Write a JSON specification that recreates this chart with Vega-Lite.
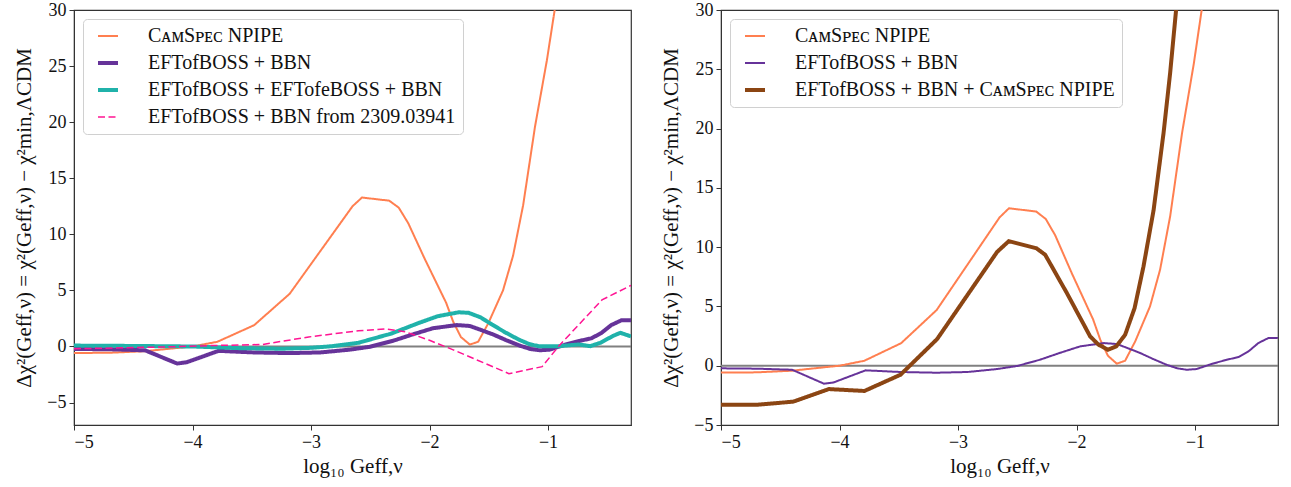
{
  "$schema": "https://vega.github.io/schema/vega-lite/v6.json",
  "background": "white",
  "padding": {"left": 13, "top": 0, "right": 8, "bottom": 5},
  "spacing": 27,
  "datasets": {
    "curves": [
      {"series": "CᴀᴍSᴘᴇᴄ NPIPE", "x": -5.0, "y": -0.58},
      {"series": "CᴀᴍSᴘᴇᴄ NPIPE", "x": -4.7, "y": -0.56},
      {"series": "CᴀᴍSᴘᴇᴄ NPIPE", "x": -4.4, "y": -0.42},
      {"series": "CᴀᴍSᴘᴇᴄ NPIPE", "x": -4.1, "y": -0.1},
      {"series": "CᴀᴍSᴘᴇᴄ NPIPE", "x": -4.0, "y": 0.0},
      {"series": "CᴀᴍSᴘᴇᴄ NPIPE", "x": -3.79, "y": 0.42},
      {"series": "CᴀᴍSᴘᴇᴄ NPIPE", "x": -3.48, "y": 1.9},
      {"series": "CᴀᴍSᴘᴇᴄ NPIPE", "x": -3.18, "y": 4.7},
      {"series": "CᴀᴍSᴘᴇᴄ NPIPE", "x": -2.65, "y": 12.5},
      {"series": "CᴀᴍSᴘᴇᴄ NPIPE", "x": -2.57, "y": 13.28},
      {"series": "CᴀᴍSᴘᴇᴄ NPIPE", "x": -2.34, "y": 13.0},
      {"series": "CᴀᴍSᴘᴇᴄ NPIPE", "x": -2.26, "y": 12.38},
      {"series": "CᴀᴍSᴘᴇᴄ NPIPE", "x": -2.18, "y": 11.0},
      {"series": "CᴀᴍSᴘᴇᴄ NPIPE", "x": -2.04, "y": 7.8},
      {"series": "CᴀᴍSᴘᴇᴄ NPIPE", "x": -1.86, "y": 3.9},
      {"series": "CᴀᴍSᴘᴇᴄ NPIPE", "x": -1.8, "y": 2.2},
      {"series": "CᴀᴍSᴘᴇᴄ NPIPE", "x": -1.735, "y": 0.84},
      {"series": "CᴀᴍSᴘᴇᴄ NPIPE", "x": -1.66, "y": 0.17},
      {"series": "CᴀᴍSᴘᴇᴄ NPIPE", "x": -1.59, "y": 0.42},
      {"series": "CᴀᴍSᴘᴇᴄ NPIPE", "x": -1.505, "y": 2.05},
      {"series": "CᴀᴍSᴘᴇᴄ NPIPE", "x": -1.38, "y": 5.0},
      {"series": "CᴀᴍSᴘᴇᴄ NPIPE", "x": -1.295, "y": 8.1},
      {"series": "CᴀᴍSᴘᴇᴄ NPIPE", "x": -1.21, "y": 12.6},
      {"series": "CᴀᴍSᴘᴇᴄ NPIPE", "x": -1.11, "y": 19.6},
      {"series": "CᴀᴍSᴘᴇᴄ NPIPE", "x": -1.01, "y": 25.5},
      {"series": "CᴀᴍSᴘᴇᴄ NPIPE", "x": -0.944, "y": 30.0},
      {"series": "CᴀᴍSᴘᴇᴄ NPIPE", "x": -0.88, "y": 35.0},

      {"series": "EFTofBOSS + BBN", "x": -5.0, "y": -0.22},
      {"series": "EFTofBOSS + BBN", "x": -4.7, "y": -0.25},
      {"series": "EFTofBOSS + BBN", "x": -4.4, "y": -0.34},
      {"series": "EFTofBOSS + BBN", "x": -4.13, "y": -1.52},
      {"series": "EFTofBOSS + BBN", "x": -4.05, "y": -1.41},
      {"series": "EFTofBOSS + BBN", "x": -3.78, "y": -0.39},
      {"series": "EFTofBOSS + BBN", "x": -3.485, "y": -0.53},
      {"series": "EFTofBOSS + BBN", "x": -3.18, "y": -0.59},
      {"series": "EFTofBOSS + BBN", "x": -2.92, "y": -0.53},
      {"series": "EFTofBOSS + BBN", "x": -2.67, "y": -0.28},
      {"series": "EFTofBOSS + BBN", "x": -2.5, "y": -0.02},
      {"series": "EFTofBOSS + BBN", "x": -2.31, "y": 0.5},
      {"series": "EFTofBOSS + BBN", "x": -2.15, "y": 1.05},
      {"series": "EFTofBOSS + BBN", "x": -1.97, "y": 1.63},
      {"series": "EFTofBOSS + BBN", "x": -1.77, "y": 1.91},
      {"series": "EFTofBOSS + BBN", "x": -1.66, "y": 1.83},
      {"series": "EFTofBOSS + BBN", "x": -1.56, "y": 1.45},
      {"series": "EFTofBOSS + BBN", "x": -1.463, "y": 1.07},
      {"series": "EFTofBOSS + BBN", "x": -1.35, "y": 0.55},
      {"series": "EFTofBOSS + BBN", "x": -1.24, "y": 0.08},
      {"series": "EFTofBOSS + BBN", "x": -1.15, "y": -0.22},
      {"series": "EFTofBOSS + BBN", "x": -1.07, "y": -0.34},
      {"series": "EFTofBOSS + BBN", "x": -0.986, "y": -0.28},
      {"series": "EFTofBOSS + BBN", "x": -0.86, "y": 0.15},
      {"series": "EFTofBOSS + BBN", "x": -0.733, "y": 0.5},
      {"series": "EFTofBOSS + BBN", "x": -0.634, "y": 0.73},
      {"series": "EFTofBOSS + BBN", "x": -0.55, "y": 1.2},
      {"series": "EFTofBOSS + BBN", "x": -0.466, "y": 1.91},
      {"series": "EFTofBOSS + BBN", "x": -0.382, "y": 2.33},
      {"series": "EFTofBOSS + BBN", "x": -0.3, "y": 2.33},

      {"series": "EFTofBOSS + EFTofeBOSS + BBN", "x": -5.0, "y": 0.08},
      {"series": "EFTofBOSS + EFTofeBOSS + BBN", "x": -4.5, "y": 0.05},
      {"series": "EFTofBOSS + EFTofeBOSS + BBN", "x": -4.0, "y": 0.0},
      {"series": "EFTofBOSS + EFTofeBOSS + BBN", "x": -3.6, "y": -0.15},
      {"series": "EFTofBOSS + EFTofeBOSS + BBN", "x": -3.24, "y": -0.2},
      {"series": "EFTofBOSS + EFTofeBOSS + BBN", "x": -3.0, "y": -0.12},
      {"series": "EFTofBOSS + EFTofeBOSS + BBN", "x": -2.82, "y": 0.03},
      {"series": "EFTofBOSS + EFTofeBOSS + BBN", "x": -2.6, "y": 0.33},
      {"series": "EFTofBOSS + EFTofeBOSS + BBN", "x": -2.32, "y": 1.16},
      {"series": "EFTofBOSS + EFTofeBOSS + BBN", "x": -2.09, "y": 2.1},
      {"series": "EFTofBOSS + EFTofeBOSS + BBN", "x": -1.93, "y": 2.7},
      {"series": "EFTofBOSS + EFTofeBOSS + BBN", "x": -1.754, "y": 3.05},
      {"series": "EFTofBOSS + EFTofeBOSS + BBN", "x": -1.67, "y": 3.0},
      {"series": "EFTofBOSS + EFTofeBOSS + BBN", "x": -1.57, "y": 2.6},
      {"series": "EFTofBOSS + EFTofeBOSS + BBN", "x": -1.473, "y": 1.96},
      {"series": "EFTofBOSS + EFTofeBOSS + BBN", "x": -1.36, "y": 1.25},
      {"series": "EFTofBOSS + EFTofeBOSS + BBN", "x": -1.248, "y": 0.62},
      {"series": "EFTofBOSS + EFTofeBOSS + BBN", "x": -1.16, "y": 0.22},
      {"series": "EFTofBOSS + EFTofeBOSS + BBN", "x": -1.08, "y": 0.03},
      {"series": "EFTofBOSS + EFTofeBOSS + BBN", "x": -0.91, "y": 0.03},
      {"series": "EFTofBOSS + EFTofeBOSS + BBN", "x": -0.742, "y": 0.18},
      {"series": "EFTofBOSS + EFTofeBOSS + BBN", "x": -0.643, "y": 0.03},
      {"series": "EFTofBOSS + EFTofeBOSS + BBN", "x": -0.559, "y": 0.33},
      {"series": "EFTofBOSS + EFTofeBOSS + BBN", "x": -0.45, "y": 0.95},
      {"series": "EFTofBOSS + EFTofeBOSS + BBN", "x": -0.39, "y": 1.22},
      {"series": "EFTofBOSS + EFTofeBOSS + BBN", "x": -0.3, "y": 0.9},

      {"series": "EFTofBOSS + BBN from 2309.03941", "x": -5.0, "y": -0.2},
      {"series": "EFTofBOSS + BBN from 2309.03941", "x": -4.6, "y": -0.12},
      {"series": "EFTofBOSS + BBN from 2309.03941", "x": -4.2, "y": -0.03},
      {"series": "EFTofBOSS + BBN from 2309.03941", "x": -3.81, "y": 0.09},
      {"series": "EFTofBOSS + BBN from 2309.03941", "x": -3.41, "y": 0.18},
      {"series": "EFTofBOSS + BBN from 2309.03941", "x": -3.02, "y": 0.85},
      {"series": "EFTofBOSS + BBN from 2309.03941", "x": -2.6, "y": 1.4},
      {"series": "EFTofBOSS + BBN from 2309.03941", "x": -2.37, "y": 1.57},
      {"series": "EFTofBOSS + BBN from 2309.03941", "x": -2.2, "y": 1.3},
      {"series": "EFTofBOSS + BBN from 2309.03941", "x": -2.0, "y": 0.55},
      {"series": "EFTofBOSS + BBN from 2309.03941", "x": -1.8, "y": -0.3},
      {"series": "EFTofBOSS + BBN from 2309.03941", "x": -1.6, "y": -1.2},
      {"series": "EFTofBOSS + BBN from 2309.03941", "x": -1.33, "y": -2.42},
      {"series": "EFTofBOSS + BBN from 2309.03941", "x": -1.05, "y": -1.8},
      {"series": "EFTofBOSS + BBN from 2309.03941", "x": -0.91, "y": 0.03},
      {"series": "EFTofBOSS + BBN from 2309.03941", "x": -0.7, "y": 2.4},
      {"series": "EFTofBOSS + BBN from 2309.03941", "x": -0.545, "y": 4.15},
      {"series": "EFTofBOSS + BBN from 2309.03941", "x": -0.3, "y": 5.45},

      {"series": "EFTofBOSS + BBN + CᴀᴍSᴘᴇᴄ NPIPE", "x": -5.0, "y": -3.29},
      {"series": "EFTofBOSS + BBN + CᴀᴍSᴘᴇᴄ NPIPE", "x": -4.69, "y": -3.29},
      {"series": "EFTofBOSS + BBN + CᴀᴍSᴘᴇᴄ NPIPE", "x": -4.39, "y": -3.03},
      {"series": "EFTofBOSS + BBN + CᴀᴍSᴘᴇᴄ NPIPE", "x": -4.09, "y": -1.97},
      {"series": "EFTofBOSS + BBN + CᴀᴍSᴘᴇᴄ NPIPE", "x": -3.79, "y": -2.13},
      {"series": "EFTofBOSS + BBN + CᴀᴍSᴘᴇᴄ NPIPE", "x": -3.485, "y": -0.76},
      {"series": "EFTofBOSS + BBN + CᴀᴍSᴘᴇᴄ NPIPE", "x": -3.176, "y": 2.25},
      {"series": "EFTofBOSS + BBN + CᴀᴍSᴘᴇᴄ NPIPE", "x": -2.67, "y": 9.6},
      {"series": "EFTofBOSS + BBN + CᴀᴍSᴘᴇᴄ NPIPE", "x": -2.572, "y": 10.5},
      {"series": "EFTofBOSS + BBN + CᴀᴍSᴘᴇᴄ NPIPE", "x": -2.339, "y": 9.91},
      {"series": "EFTofBOSS + BBN + CᴀᴍSᴘᴇᴄ NPIPE", "x": -2.264, "y": 9.35},
      {"series": "EFTofBOSS + BBN + CᴀᴍSᴘᴇᴄ NPIPE", "x": -2.08, "y": 6.1},
      {"series": "EFTofBOSS + BBN + CᴀᴍSᴘᴇᴄ NPIPE", "x": -1.885, "y": 2.47},
      {"series": "EFTofBOSS + BBN + CᴀᴍSᴘᴇᴄ NPIPE", "x": -1.814, "y": 1.77},
      {"series": "EFTofBOSS + BBN + CᴀᴍSᴘᴇᴄ NPIPE", "x": -1.735, "y": 1.35},
      {"series": "EFTofBOSS + BBN + CᴀᴍSᴘᴇᴄ NPIPE", "x": -1.665, "y": 1.63},
      {"series": "EFTofBOSS + BBN + CᴀᴍSᴘᴇᴄ NPIPE", "x": -1.59, "y": 2.61},
      {"series": "EFTofBOSS + BBN + CᴀᴍSᴘᴇᴄ NPIPE", "x": -1.51, "y": 4.86},
      {"series": "EFTofBOSS + BBN + CᴀᴍSᴘᴇᴄ NPIPE", "x": -1.435, "y": 8.37},
      {"series": "EFTofBOSS + BBN + CᴀᴍSᴘᴇᴄ NPIPE", "x": -1.35, "y": 13.1},
      {"series": "EFTofBOSS + BBN + CᴀᴍSᴘᴇᴄ NPIPE", "x": -1.266, "y": 19.6},
      {"series": "EFTofBOSS + BBN + CᴀᴍSᴘᴇᴄ NPIPE", "x": -1.21, "y": 24.7},
      {"series": "EFTofBOSS + BBN + CᴀᴍSᴘᴇᴄ NPIPE", "x": -1.16, "y": 30.0},
      {"series": "EFTofBOSS + BBN + CᴀᴍSᴘᴇᴄ NPIPE", "x": -1.12, "y": 34.0}
    ]
  },
  "hconcat": [
    {
      "width": 557,
      "height": 415,
      "layer": [
        {
          "data": {"values": [{}]},
          "mark": {"type": "rule", "color": "#808080", "strokeWidth": 2},
          "encoding": {"y": {"datum": 0, "type": "quantitative"}}
        },
        {
          "data": {"name": "curves"},
          "transform": [{"filter": {"field": "series", "oneOf": ["CᴀᴍSᴘᴇᴄ NPIPE", "EFTofBOSS + BBN", "EFTofBOSS + EFTofeBOSS + BBN", "EFTofBOSS + BBN from 2309.03941"]}}],
          "mark": {"type": "line", "clip": true},
          "encoding": {
            "x": {"field": "x", "type": "quantitative", "scale": {"domain": [-5, -0.3], "nice": false, "zero": false}, "axis": {"values": [-5, -4, -3, -2, -1], "title": "log₁₀ Geff,ν"}},
            "y": {"field": "y", "type": "quantitative", "scale": {"domain": [-7, 30], "nice": false, "zero": false}, "axis": {"values": [-5, 0, 5, 10, 15, 20, 25, 30], "title": "Δχ²(Geff,ν) = χ²(Geff,ν) − χ²min,ΛCDM"}},
            "color": {"field": "series", "type": "nominal", "title": null,
              "scale": {"domain": ["CᴀᴍSᴘᴇᴄ NPIPE", "EFTofBOSS + BBN", "EFTofBOSS + EFTofeBOSS + BBN", "EFTofBOSS + BBN from 2309.03941"], "range": ["#ff7f50", "#663399", "#20b2aa", "#ff1493"]}},
            "strokeWidth": {"field": "series", "type": "nominal", "title": null,
              "scale": {"type": "ordinal", "domain": ["CᴀᴍSᴘᴇᴄ NPIPE", "EFTofBOSS + BBN", "EFTofBOSS + EFTofeBOSS + BBN", "EFTofBOSS + BBN from 2309.03941"], "range": [2, 4, 4, 1.5]}},
            "strokeDash": {"field": "series", "type": "nominal", "title": null,
              "scale": {"domain": ["CᴀᴍSᴘᴇᴄ NPIPE", "EFTofBOSS + BBN", "EFTofBOSS + EFTofeBOSS + BBN", "EFTofBOSS + BBN from 2309.03941"], "range": [[1, 0], [1, 0], [1, 0], [7, 3.5]]}}
          }
        }
      ]
    },
    {
      "width": 557,
      "height": 415,
      "layer": [
        {
          "data": {"values": [{}]},
          "mark": {"type": "rule", "color": "#808080", "strokeWidth": 2},
          "encoding": {"y": {"datum": 0, "type": "quantitative"}}
        },
        {
          "data": {"name": "curves"},
          "transform": [{"filter": {"field": "series", "oneOf": ["CᴀᴍSᴘᴇᴄ NPIPE", "EFTofBOSS + BBN", "EFTofBOSS + BBN + CᴀᴍSᴘᴇᴄ NPIPE"]}}],
          "mark": {"type": "line", "clip": true},
          "encoding": {
            "x": {"field": "x", "type": "quantitative", "scale": {"domain": [-5, -0.3], "nice": false, "zero": false}, "axis": {"values": [-5, -4, -3, -2, -1], "title": "log₁₀ Geff,ν"}},
            "y": {"field": "y", "type": "quantitative", "scale": {"domain": [-5, 30], "nice": false, "zero": false}, "axis": {"values": [-5, 0, 5, 10, 15, 20, 25, 30], "title": "Δχ²(Geff,ν) = χ²(Geff,ν) − χ²min,ΛCDM"}},
            "color": {"field": "series", "type": "nominal", "title": null,
              "scale": {"domain": ["CᴀᴍSᴘᴇᴄ NPIPE", "EFTofBOSS + BBN", "EFTofBOSS + BBN + CᴀᴍSᴘᴇᴄ NPIPE"], "range": ["#ff7f50", "#663399", "#8b4513"]}},
            "strokeWidth": {"field": "series", "type": "nominal", "title": null,
              "scale": {"type": "ordinal", "domain": ["CᴀᴍSᴘᴇᴄ NPIPE", "EFTofBOSS + BBN", "EFTofBOSS + BBN + CᴀᴍSᴘᴇᴄ NPIPE"], "range": [2, 2, 4]}},
            "strokeDash": {"field": "series", "type": "nominal", "title": null,
              "scale": {"domain": ["CᴀᴍSᴘᴇᴄ NPIPE", "EFTofBOSS + BBN", "EFTofBOSS + BBN + CᴀᴍSᴘᴇᴄ NPIPE"], "range": [[1, 0], [1, 0], [1, 0]]}}
          }
        }
      ]
    }
  ],
  "resolve": {"scale": {"color": "independent", "strokeWidth": "independent", "strokeDash": "independent"}},
  "config": {
    "font": "Liberation Serif",
    "view": {"stroke": "#333333", "strokeWidth": 1.2},
    "axis": {
      "labelFont": "Liberation Serif", "labelFontSize": 18, "labelColor": "#111111",
      "titleFont": "Liberation Serif", "titleFontSize": 21, "titleFontWeight": "normal", "titleColor": "#111111",
      "grid": false, "domainColor": "#333333", "tickColor": "#333333", "tickSize": 5, "labelPadding": 3
    },
    "axisY": {"titlePadding": 12},
    "legend": {
      "orient": "top-left", "offset": 9, "padding": 7,
      "labelFont": "Liberation Serif", "labelFontSize": 20, "labelColor": "#111111", "labelLimit": 0,
      "symbolType": "M-0.5,0H4.5", "symbolSize": 64, "labelOffset": 38,
      "rowPadding": 7,
      "fillColor": "white", "strokeColor": "#d0d0d0", "cornerRadius": 4
    }
  }
}
